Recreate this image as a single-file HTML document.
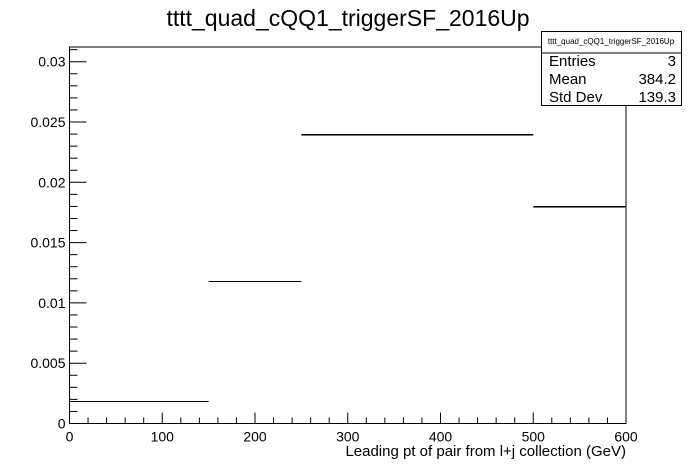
<!DOCTYPE html>
<html><head><meta charset="utf-8"><style>
body{margin:0;background:#fff;}
svg{display:block;font-family:"Liberation Sans",sans-serif;}
</style></head><body>
<svg id="chart" width="696" height="472">
<rect width="696" height="472" fill="#fff"/>
<text x="348" y="26" font-size="23" text-anchor="middle">tttt_quad_cQQ1_triggerSF_2016Up</text>
<g id="axes"></g>
<g id="bars"></g>
<text x="626" y="456" font-size="15" text-anchor="end">Leading pt of pair from l+j collection (GeV)</text>
<g>
<rect x="541.5" y="31.5" width="140" height="74" fill="#fff" stroke="#000"/>
<line x1="541.5" y1="53" x2="681.5" y2="53" stroke="#000"/>
<text x="611" y="44" font-size="8" text-anchor="middle">tttt_quad_cQQ1_triggerSF_2016Up</text>
<text x="549" y="66" font-size="15">Entries</text><text x="676" y="66" font-size="15" text-anchor="end">3</text>
<text x="549" y="84" font-size="15">Mean</text><text x="676" y="84" font-size="15" text-anchor="end">384.2</text>
<text x="549" y="102" font-size="15">Std Dev</text><text x="676" y="102" font-size="15" text-anchor="end">139.3</text>
</g>
</svg>
<script>
const binEdges=[0,150,250,500,600];
const binValues=[0.0019,0.0118,0.0240,0.0180];
const xTicks=[0,100,200,300,400,500,600];
const yTicks=[0,0.005,0.01,0.015,0.02,0.025,0.03];
const yTickLabels=["0","0.005","0.01","0.015","0.02","0.025","0.03"];
const L=69.5,R=626,T=47,B=423.5,XMAX=600,YMAX=0.03122;
const X=v=>L+(R-L)*v/XMAX, Y=v=>B-(B-T)*v/YMAX;
const NS="http://www.w3.org/2000/svg";
function mk(tag,at,parent){const e=document.createElementNS(NS,tag);for(const k in at)e.setAttribute(k,at[k]);parent.appendChild(e);return e;}
const ax=document.getElementById('axes');
const fr=mk('rect',{x:L,y:T,width:R-L,height:B-T,fill:'none',stroke:'#000'},ax);


for(let v=0;v<=XMAX+1e-9;v+=20){const major=Math.abs(v%100)<1e-6;
 const t=mk('line',{x1:X(v),x2:X(v),y1:B,y2:B-(major?11:6),stroke:'#000'},ax);
 
 }
xTicks.forEach(v=>{const t=mk('text',{x:X(v),y:B+18,'font-size':14,'text-anchor':'middle'},ax);t.textContent=v;
 
 });
for(let i=0;i*0.001<=YMAX;i++){const v=i*0.001,major=i%5===0;
 const t=mk('line',{x1:L,x2:L+(major?17:8),y1:Y(v),y2:Y(v),stroke:'#000'},ax);
 
 }
yTicks.forEach((v,i)=>{const t=mk('text',{x:L-4,y:Y(v)+5,'font-size':14,'text-anchor':'end'},ax);t.textContent=yTickLabels[i];
 
 });
const bars=document.getElementById('bars');
binValues.forEach((v,i)=>{
 const y=Math.round(Y(v))+0.5;
 const green=binEdges[i]>=250;
 const l=mk('line',{x1:X(binEdges[i]),x2:X(binEdges[i+1]),y1:y,y2:y,stroke:'#000','stroke-width':1},bars);
 
 
 if(green){
  const g=mk('line',{x1:X(binEdges[i]),x2:X(binEdges[i+1]),y1:y+1,y2:y+1,stroke:'#00c800','stroke-width':1},bars);
  
  
 }
});
</script>
</body></html>
